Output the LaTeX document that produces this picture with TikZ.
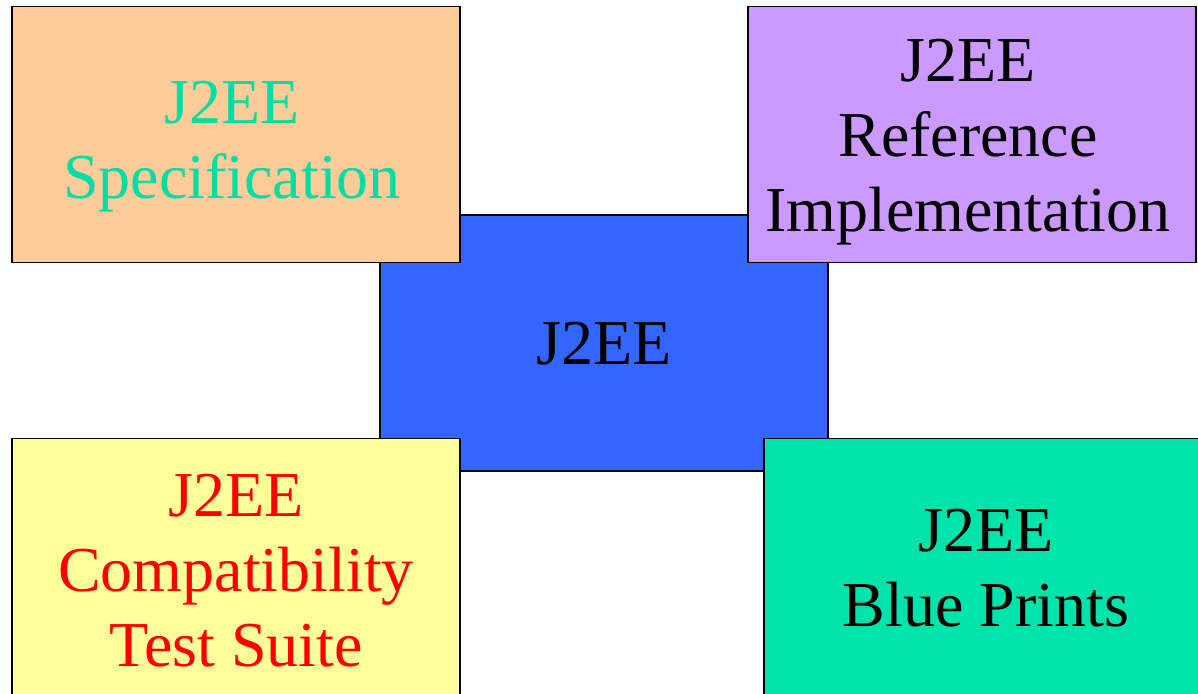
\documentclass[tikz,border=0pt]{standalone}
\usepackage{fontspec}
\setmainfont{Liberation Serif}
\definecolor{orangebox}{HTML}{FFCC99}
\definecolor{purplebox}{HTML}{CC99FF}
\definecolor{bluebox}{HTML}{3366FF}
\definecolor{yellowbox}{HTML}{FFFF99}
\definecolor{greenbox}{HTML}{00E3AA}
\definecolor{tealtext}{HTML}{00DDA5}
\definecolor{redtext}{HTML}{FF0000}
\begin{document}
\begin{tikzpicture}[x=0.5pt,y=-0.5pt,
  box/.style={draw=black, line width=0.85pt, minimum width=224pt, minimum height=128pt,
    inner sep=0pt},
  label/.style={inner sep=0pt, align=center, font=\fontsize{32}{37.5}\selectfont}]
\useasboundingbox (0,0) rectangle (1198,693);
\clip (0,0) rectangle (1198,693);
\node[box, fill=bluebox] (core) at (604,343) {};
\node[label] (coret) at ([yshift=-0.5pt]core.center) {J2EE};
\node[box, fill=orangebox] (spec) at (236,134.5) {};
\node[label, text=tealtext] (spect) at ([xshift=-2pt,yshift=-6pt]spec.center) {J2EE\\Specification};
\node[box, fill=purplebox] (ref) at (972,134.5) {};
\node[label] (reft) at ([xshift=-2pt,yshift=-4pt]ref.center) {J2EE\\Reference\\Implementation};
\node[box, fill=yellowbox] (cts) at (236,566.5) {};
\node[label, text=redtext] (ctst) at ([yshift=-2pt]cts.center) {J2EE\\Compatibility\\Test Suite};
\node[box, fill=greenbox] (bp) at (988,566.5) {};
\node[label] (bpt) at ([xshift=-1pt,yshift=-1pt]bp.center) {J2EE\\Blue Prints};
\end{tikzpicture}
\end{document}
